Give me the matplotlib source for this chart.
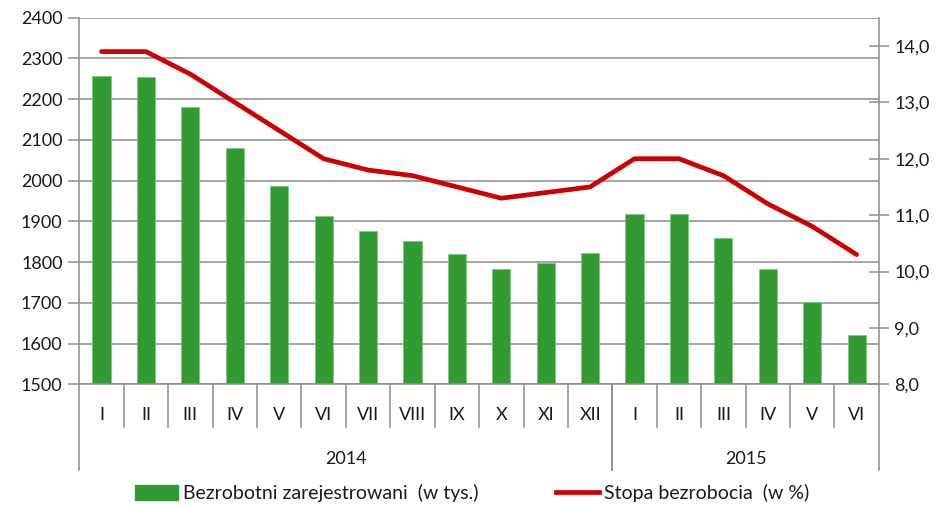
import matplotlib
matplotlib.use("Agg")
import matplotlib.pyplot as plt
from matplotlib.patches import Patch
from matplotlib.lines import Line2D

plt.rcParams['font.family'] = ['Lato', 'DejaVu Sans']

# data
months = ['I', 'II', 'III', 'IV', 'V', 'VI', 'VII', 'VIII', 'IX', 'X', 'XI', 'XII',
          'I', 'II', 'III', 'IV', 'V', 'VI']
years = ['2014', '2015']
year_spans = [(0, 12), (12, 18)]  # index ranges of months per year
registered = [2258, 2255, 2182, 2081, 1987, 1914, 1877, 1853, 1820, 1783, 1799, 1823,
              1918, 1918, 1860, 1783, 1702, 1620]
rate = [13.9, 13.9, 13.5, 13.0, 12.5, 12.0, 11.8, 11.7, 11.5, 11.3, 11.4, 11.5,
        12.0, 12.0, 11.7, 11.2, 10.8, 10.3]

green = '#339933'
red = '#cc0000'
grid_c = '#8c8c8c'
txt_c = '#1a1a1a'

fig = plt.figure(figsize=(9.44, 5.07), dpi=100)
ax = fig.add_axes([0.084, 0.242, 0.847, 0.723])
ax2 = ax.twinx()

x = list(range(len(months)))
ax.bar(x, [v - 1500 for v in registered], bottom=1500, width=0.41,
       color=green, edgecolor='#7fc97f', linewidth=0.6, zorder=3)
ax.set_xlim(-0.5, len(months) - 0.5)
ax.set_ylim(1500, 2400)
ax.set_yticks(range(1500, 2401, 100))
ax.yaxis.grid(True, color=grid_c, linewidth=1.1, zorder=0)
ax.set_axisbelow(True)

ax2.plot(x, rate, color=red, linewidth=3.4, solid_capstyle='round', zorder=5)
ax2.set_ylim(8.0, 14.5)
ax2.set_yticks([8, 9, 10, 11, 12, 13, 14])
ax2.set_yticklabels([f'{v},0' for v in range(8, 15)])

for a in (ax, ax2):
    for s in a.spines.values():
        s.set_visible(False)
ax.spines['left'].set_visible(True)
ax.spines['left'].set_color(grid_c)
ax.spines['left'].set_linewidth(1.1)
ax2.spines['right'].set_visible(True)
ax2.spines['right'].set_color(grid_c)
ax2.spines['right'].set_linewidth(1.1)

ax.tick_params(axis='y', length=8, width=1.1, color=grid_c, labelsize=13,
               labelcolor=txt_c, pad=4)
ax2.tick_params(axis='y', direction='inout', length=14, width=1.1, color=grid_c,
                labelsize=13, labelcolor=txt_c, pad=4)
ax.tick_params(axis='x', length=0, labelbottom=False)

# two level category axis
tr = ax.get_xaxis_transform()
ax.plot([-0.5, len(months) - 0.5], [0, 0], color=grid_c, linewidth=1.1,
        transform=tr, clip_on=False, zorder=4)
for i in range(1, len(months)):
    ax.plot([i - 0.5, i - 0.5], [0, -0.117], color=grid_c, linewidth=1.1,
            transform=tr, clip_on=False)
for i, m in enumerate(months):
    ax.text(i, -0.083, m, transform=tr, ha='center', va='center',
            fontsize=13, color=txt_c)
for (a, b), y in zip(year_spans, years):
    for edge in (a, b):
        ax.plot([edge - 0.5, edge - 0.5], [0, -0.235], color=grid_c, linewidth=1.1,
                transform=tr, clip_on=False)
    ax.text((a + b - 1) / 2, -0.203, y, transform=tr, ha='center', va='center',
            fontsize=13, color=txt_c)

handles = [Patch(facecolor=green, edgecolor=green),
           Line2D([0], [0], color=red, linewidth=3.4)]
labels = ['Bezrobotni zarejestrowani  (w tys.)', 'Stopa bezrobocia  (w %)']
fig.legend(handles, labels, loc='center', bbox_to_anchor=(0.5, 0.027), ncol=2,
           frameon=False, fontsize=14, handlelength=2.2, handleheight=0.85,
           handletextpad=0.25, columnspacing=4.0, labelcolor=txt_c)

fig.savefig('out.png', dpi=100)
